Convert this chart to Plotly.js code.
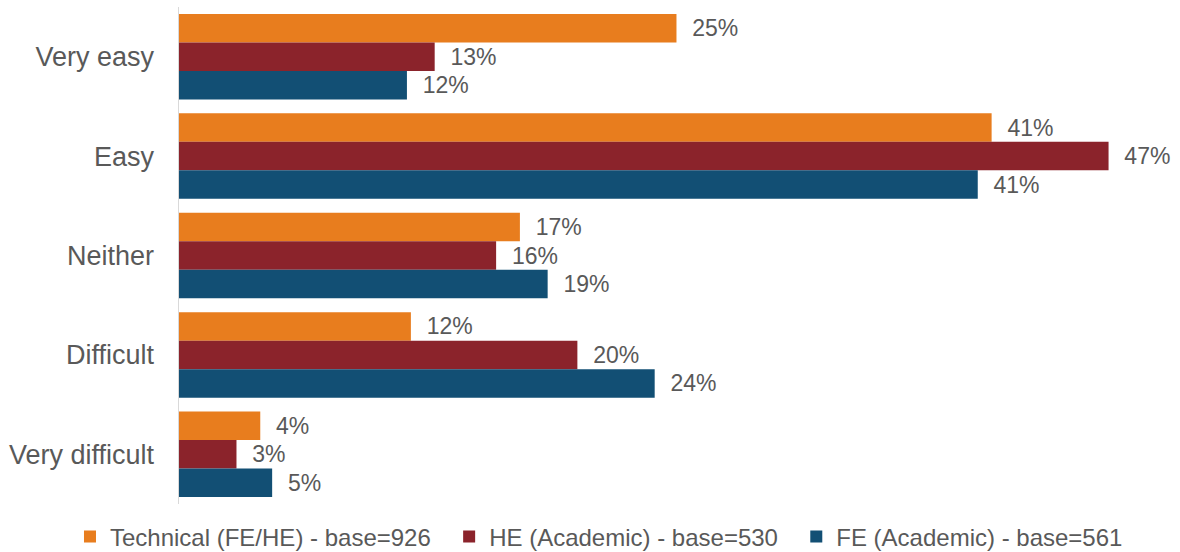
<!DOCTYPE html>
<html>
<head>
<meta charset="utf-8">
<script src="https://cdn.plot.ly/plotly-3.0.1.min.js"></script>
<style>html,body{margin:0;padding:0;background:#fff;}#chart{width:1180px;height:552px;}</style>
</head>
<body>
<div id="chart"></div>
<script>
const categories = ["Very easy", "Easy", "Neither", "Difficult", "Very difficult"];
const seriesNames = ["Technical (FE/HE) - base=926", "HE (Academic) - base=530", "FE (Academic) - base=561"];
const technical = [25.1, 41.0, 17.2, 11.7, 4.1];
const heAcademic = [12.9, 46.9, 16.0, 20.1, 2.9];
const feAcademic = [11.5, 40.3, 18.6, 24.0, 4.7];
const technicalLabels = ["25%", "41%", "17%", "12%", "4%"];
const heLabels = ["13%", "47%", "16%", "20%", "3%"];
const feLabels = ["12%", "41%", "19%", "24%", "5%"];
const colors = ["#E87D1E", "#8B232B", "#124F74"];

const font = "Liberation Sans, Arial, sans-serif";
function mk(name, vals, labels, color) {
  return {
    type: "bar", orientation: "h", name: name + "\u00a0\u00a0",
    y: categories, x: vals,
    text: labels.map(t => "\u00a0\u00a0" + t), textposition: "outside",
    constraintext: "none",
    textfont: {family: font, size: 23, color: "#595959"},
    cliponaxis: false,
    marker: {color: color},
    hoverinfo: "none"
  };
}
const data = [
  mk(seriesNames[0], technical, technicalLabels, colors[0]),
  mk(seriesNames[1], heAcademic, heLabels, colors[1]),
  mk(seriesNames[2], feAcademic, feLabels, colors[2])
];
const layout = {
  width: 1180, height: 552,
  margin: {l: 179, r: 10, t: 7, b: 48, autoexpand: false},
  barmode: "group", bargap: 0.14, bargroupgap: 0,
  paper_bgcolor: "#fff", plot_bgcolor: "#fff",
  font: {family: font, color: "#595959"},
  xaxis: {range: [0, 50], showgrid: false, zeroline: false, showticklabels: false, ticks: "", showline: false, fixedrange: true},
  yaxis: {autorange: "reversed", showgrid: false, zeroline: false, showline: true, linecolor: "#D9D9D9", linewidth: 1.5,
          ticks: "", ticklabelstandoff: 18, tickfont: {family: font, size: 27, color: "#595959"}},
  showlegend: true,
  legend: {orientation: "h", x: -0.11, xanchor: "left", y: -0.066, yanchor: "middle",
           font: {family: font, size: 24, color: "#595959"}, traceorder: "normal", itemwidth: 30}
};
Plotly.newPlot("chart", data, layout, {staticPlot: true});
</script>
</body>
</html>
